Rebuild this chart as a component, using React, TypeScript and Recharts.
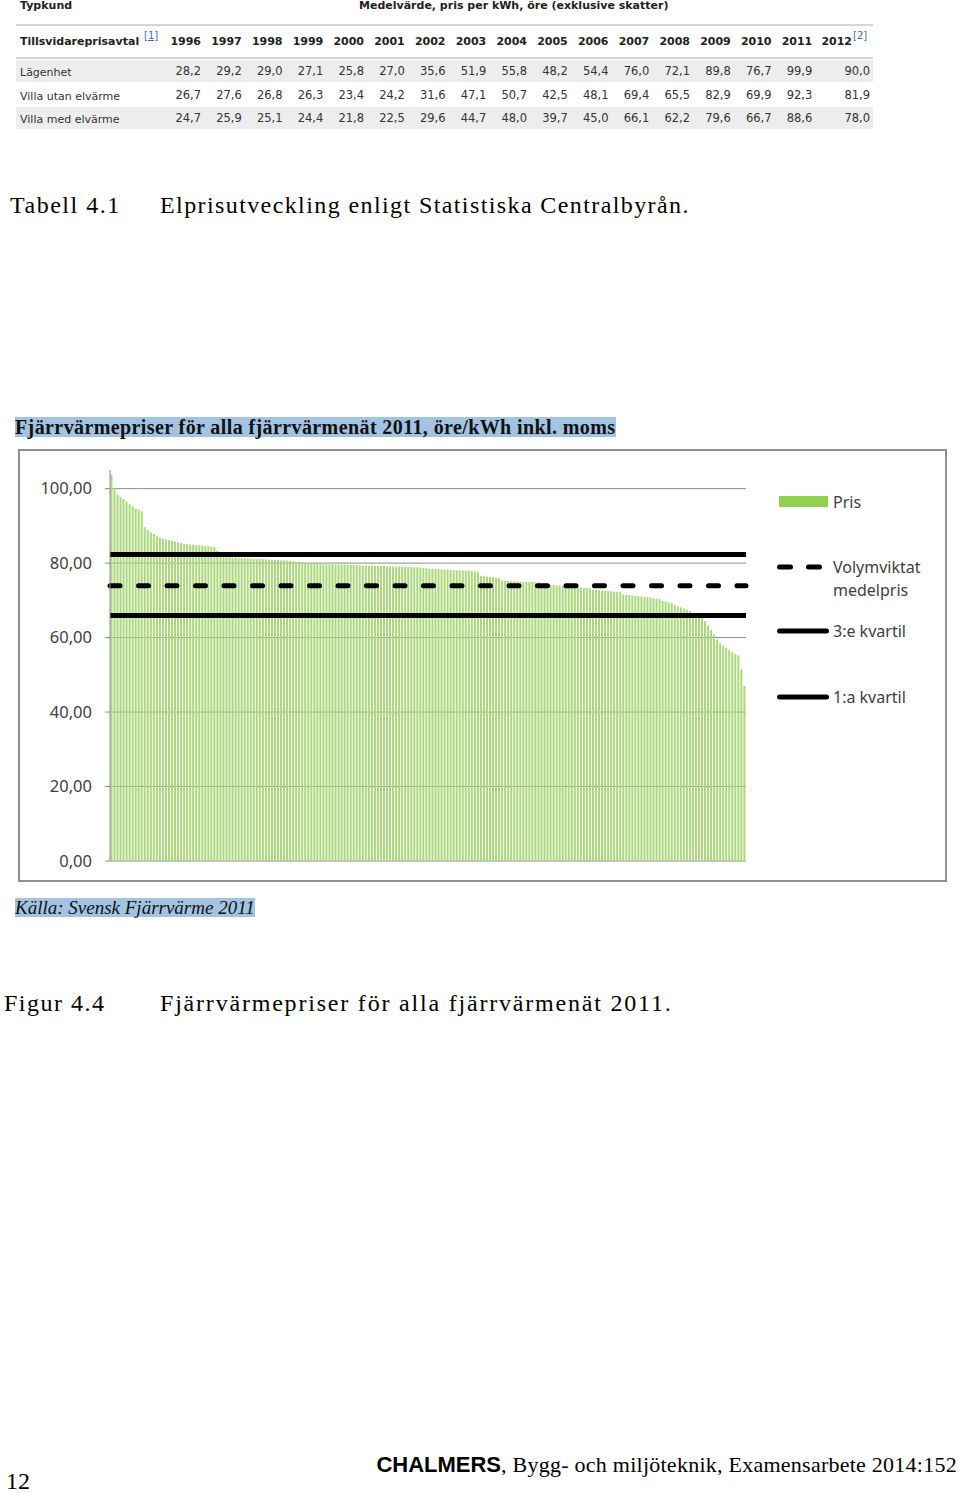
import { BarChart, Bar, XAxis, YAxis, CartesianGrid, ReferenceLine, Legend } from "recharts"

// table 4.1 - SCB electricity prices
const years = [1996, 1997, 1998, 1999, 2000, 2001, 2002, 2003, 2004, 2005, 2006, 2007, 2008, 2009, 2010, 2011, 2012]
const lagenhet = [28.2, 29.2, 29.0, 27.1, 25.8, 27.0, 35.6, 51.9, 55.8, 48.2, 54.4, 76.0, 72.1, 89.8, 76.7, 99.9, 90.0]
const villaUtanElvarme = [26.7, 27.6, 26.8, 26.3, 23.4, 24.2, 31.6, 47.1, 50.7, 42.5, 48.1, 69.4, 65.5, 82.9, 69.9, 92.3, 81.9]
const villaMedElvarme = [24.7, 25.9, 25.1, 24.4, 21.8, 22.5, 29.6, 44.7, 48.0, 39.7, 45.0, 66.1, 62.2, 79.6, 66.7, 88.6, 78.0]
const rowLabels = ["Lägenhet", "Villa utan elvärme", "Villa med elvärme"]

// figure 4.4 - price per district heating network, sorted
const prices = [
  103.8, 100.2, 98.5, 97.8, 97.2, 96.5, 95.8, 95.2, 94.6, 94.3, 93.9,
  89.6, 88.9, 88.3, 87.8, 87.2, 86.9, 86.6, 86.4, 86.2, 86.0, 85.8, 85.6, 85.4,
  85.2, 85.1, 85.0, 84.9, 84.8, 84.8, 84.7, 84.6, 84.5, 84.4, 84.3,
  83.3, 82.8,
  81.7, 81.6, 81.6, 81.5, 81.5, 81.4, 81.4, 81.3, 81.3, 81.2, 81.2, 81.1, 81.1,
  81.0, 81.0, 80.9, 80.9, 80.8, 80.8, 80.7, 80.7, 80.6, 80.6,
  80.4, 80.3, 80.3, 80.2, 80.1, 80.0, 80.0,
  79.8, 79.8, 79.8, 79.7, 79.7, 79.7, 79.7, 79.6, 79.6, 79.6, 79.6, 79.5, 79.5, 79.5, 79.5, 79.4,
  79.3, 79.3, 79.3, 79.3, 79.2, 79.2, 79.2, 79.2, 79.1, 79.1, 79.1, 79.1, 79.0, 79.0, 79.0, 79.0, 78.9, 78.9, 78.9, 78.8,
  78.6, 78.6, 78.5, 78.5, 78.4, 78.4, 78.3, 78.3, 78.2, 78.2, 78.1, 78.1, 78.0, 78.0, 77.9, 77.9, 77.8, 77.8, 77.7,
  76.6, 76.5, 76.4, 76.3, 76.2, 76.1, 76.0,
  75.3, 75.2, 75.2, 75.1, 75.1, 75.0, 75.0, 75.0, 74.9, 74.9, 74.9, 74.8, 74.8,
  74.3, 74.2, 74.2, 74.1, 74.1, 74.0, 74.0, 73.9, 73.9, 73.8,
  73.5, 73.5, 73.4, 73.4, 73.3, 73.3, 73.2,
  72.8, 72.8, 72.7, 72.6, 72.6, 72.5, 72.4, 72.3, 72.3, 72.2,
  71.6, 71.5, 71.4, 71.3, 71.2, 71.1, 71.0, 70.9, 70.8, 70.7, 70.5, 70.4, 70.3,
  69.9, 69.7, 69.4, 69.2,
  68.7, 68.4, 68.1, 67.8, 67.5, 67.2,
  66.5, 66.3, 66.0, 65.8,
  64.4, 63.2, 62.0, 60.8,
  59.5, 58.5, 57.8, 57.2, 56.6, 56.0,
  55.6, 55.2, 51.5, 47.0,
]
const quartile3 = 82.3
const weightedMean = 73.9
const quartile1 = 65.9
const yTicks = [0, 20, 40, 60, 80, 100]

const chartData = prices.map((pris, i) => ({ id: i + 1, pris }))

const fmt = (v: number, d: number) => v.toFixed(d).replace(".", ",")

type TextProps = {
  x: number
  base: number
  size: number
  family?: string
  weight?: number | string
  italic?: boolean
  color?: string
  right?: boolean
  spacing?: number
  children: React.ReactNode
  style?: React.CSSProperties
}

// positions a line of text by its baseline
const Txt = ({ x, base, size, family = "'Liberation Serif', serif", weight = 400, italic, color = "#000", right, spacing = 0, children, style }: TextProps) => (
  <div
    style={{
      position: "absolute",
      top: base - size * 0.84,
      ...(right ? { right: 960 - x, textAlign: "right" } : { left: x }),
      fontSize: size,
      lineHeight: `${size}px`,
      fontFamily: family,
      fontWeight: weight,
      fontStyle: italic ? "italic" : "normal",
      letterSpacing: spacing,
      color,
      whiteSpace: "nowrap",
      ...style,
    }}
  >
    {children}
  </div>
)

const tableFont = "'DejaVu Sans', Verdana, sans-serif"
const colRight = (i: number) => (i === 16 ? 852 : 201 + i * 40.75)
const valRight = (i: number) => (i === 16 ? 870 : 201 + i * 40.75)

const PriceTable = () => {
  const rows = [lagenhet, villaUtanElvarme, villaMedElvarme]
  const rowBase = [76, 100, 123]
  const rowBg = ["#ededed", "#ffffff", "#ededed"]
  const rowTop = [60, 84, 107]
  return (
    <>
      <Txt x={20} base={9} size={11} family={tableFont} weight={700} color="#222">Typkund</Txt>
      <Txt x={359} base={9} size={11} family={tableFont} weight={700} color="#222">
        Medelvärde, pris per kWh, öre (exklusive skatter)
      </Txt>
      <div style={{ position: "absolute", left: 16, top: 24, width: 857, height: 2, background: "#d6d6d6" }} />
      <Txt x={20} base={45} size={11} family={tableFont} weight={700} color="#222">Tillsvidareprisavtal</Txt>
      <Txt x={144} base={39} size={10} family={tableFont} color="#3a6fb0" style={{ textDecoration: "underline" }}>[1]</Txt>
      {years.map((y, i) => (
        <Txt key={y} x={colRight(i)} base={45} size={11} family={tableFont} weight={700} color="#222" right>
          {y}
        </Txt>
      ))}
      <Txt x={853} base={39} size={10} family={tableFont} color="#3a6fb0">[2]</Txt>
      <div style={{ position: "absolute", left: 16, top: 57, width: 857, height: 2, background: "#d6d6d6" }} />
      {rows.map((vals, r) => (
        <div key={r}>
          <div style={{ position: "absolute", left: 16, top: rowTop[r], width: 857, height: 22, background: rowBg[r] }} />
          <Txt x={20} base={rowBase[r]} size={11} family={tableFont} color="#333">{rowLabels[r]}</Txt>
          {vals.map((v, i) => (
            <Txt key={i} x={valRight(i)} base={rowBase[r]} size={11.5} family={tableFont} color="#333" right>
              {fmt(v, 1)}
            </Txt>
          ))}
        </div>
      ))}
    </>
  )
}

const legendFont = "'Noto Sans', 'Open Sans', sans-serif"

const PriceLegend = () => (
  <svg width={170} height={240} style={{ fontFamily: legendFont, fontSize: 16, fill: "#404040" }}>
    <rect x={9} y={16} width={49} height={11} fill="#92d050" />
    <text x={63} y={22} dominantBaseline="central">Pris</text>
    <line x1={9.5} x2={50.5} y1={87} y2={87} stroke="#000" strokeWidth={5} strokeDasharray="11 18" strokeLinecap="round" />
    <text x={63} y={87} dominantBaseline="central">Volymviktat</text>
    <text x={63} y={110} dominantBaseline="central">medelpris</text>
    <line x1={9.5} x2={56.5} y1={151} y2={151} stroke="#000" strokeWidth={5} strokeLinecap="round" />
    <text x={63} y={151} dominantBaseline="central">3:e kvartil</text>
    <line x1={9.5} x2={56.5} y1={217} y2={217} stroke="#000" strokeWidth={5} strokeLinecap="round" />
    <text x={63} y={217} dominantBaseline="central">1:a kvartil</text>
  </svg>
)

const HeatChart = () => (
  <div
    style={{
      position: "absolute",
      left: 18,
      top: 449,
      width: 925,
      height: 429,
      border: "2px solid #8f8f8f",
      background: "#fff",
    }}
  >
    <BarChart
      width={925}
      height={429}
      data={chartData}
      margin={{ top: 19, right: 199, bottom: 19, left: 0 }}
      barCategoryGap="14%"
    >
      <CartesianGrid vertical={false} stroke="#8c8c8c" horizontalValues={yTicks} />
      <XAxis dataKey="id" hide />
      <YAxis
        width={90}
        domain={[0, 105]}
        ticks={yTicks}
        interval={0}
        tickFormatter={(v: number) => fmt(v, 2)}
        tick={{ fill: "#404040", fontSize: 16.5, fontFamily: legendFont }}
        tickSize={5}
        tickMargin={13}
        axisLine={{ stroke: "#8c8c8c" }}
        tickLine={{ stroke: "#8c8c8c" }}
      />
      <Bar dataKey="pris" fill="#a9d87a" isAnimationActive={false} />
      <ReferenceLine y={quartile3} stroke="#000" strokeWidth={5} />
      <ReferenceLine y={weightedMean} stroke="#000" strokeWidth={5} strokeDasharray="10 18.5" strokeLinecap="round" />
      <ReferenceLine y={quartile1} stroke="#000" strokeWidth={5} />
      <Legend
        align="center"
        verticalAlign="middle"
        content={() => <PriceLegend />}
        wrapperStyle={{ left: 750, top: 29, width: 170, height: 240 }}
      />
    </BarChart>
  </div>
)

export default function App() {
  return (
    <div style={{ position: "absolute", left: 0, top: 0, width: 960, height: 1493, background: "#fff", overflow: "hidden" }}>
      <PriceTable />
      <Txt x={10} base={213} size={24} spacing={1.5}>Tabell 4.1</Txt>
      <Txt x={160} base={213} size={24} spacing={1.4}>Elprisutveckling enligt Statistiska Centralbyrån.</Txt>

      <Txt x={15} base={434} size={20} weight={700} spacing={0.4} style={{ background: "#a2c3e2", color: "#111" }}>
        Fjärrvärmepriser för alla fjärrvärmenät 2011, öre/kWh inkl. moms
      </Txt>
      <HeatChart />
      <Txt x={15} base={914} size={19} italic style={{ background: "#a2c3e2", color: "#111" }}>
        Källa: Svensk Fjärrvärme 2011
      </Txt>

      <Txt x={4} base={1011} size={24} spacing={1.5}>Figur 4.4</Txt>
      <Txt x={160} base={1011} size={24} spacing={1.8}>Fjärrvärmepriser för alla fjärrvärmenät 2011.</Txt>

      <Txt x={957} base={1472} size={22} right>
        <span style={{ fontFamily: "'Liberation Sans', Arial, sans-serif", fontWeight: 700 }}>CHALMERS</span>
        <span style={{ letterSpacing: 0.25 }}>, Bygg- och miljöteknik, Examensarbete 2014:152</span>
      </Txt>
      <Txt x={6} base={1489} size={24}>12</Txt>
    </div>
  )
}
